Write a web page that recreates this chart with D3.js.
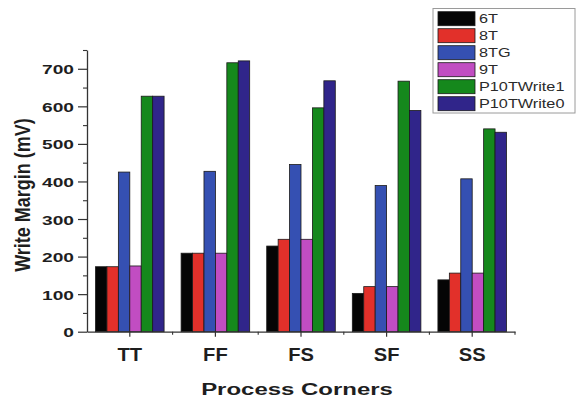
<!DOCTYPE html>
<html>
<head>
<meta charset="utf-8">
<script src="https://cdn.jsdelivr.net/npm/d3@7"></script>
<style>
  html, body { margin: 0; padding: 0; background: #fff; }
  svg { display: block; }
  text { font-family: "Liberation Sans", Arial, sans-serif; }
</style>
</head>
<body>
<svg id="chart" width="576" height="398"></svg>
<script>
// Process corners on the x axis
const corners = ["TT", "FF", "FS", "SF", "SS"];

// Write margin (mV) of each cell type per corner
const v6T         = [173, 209, 228, 102, 138];
const v8T         = [173, 209, 246, 120, 156];
const v8TG        = [425, 427, 445, 389, 407];
const v9T         = [175, 209, 246, 120, 156];
const vP10TWrite1 = [627, 716, 596, 667, 540];
const vP10TWrite0 = [627, 721, 668, 589, 531];

const seriesNames  = ["6T", "8T", "8TG", "9T", "P10TWrite1", "P10TWrite0"];
const seriesValues = [v6T, v8T, v8TG, v9T, vP10TWrite1, vP10TWrite0];
const seriesColors = ["#050505", "#e2302a", "#3550b2", "#c14dc2", "#15881c", "#30258a"];

const yMajorTicks = [0, 100, 200, 300, 400, 500, 600, 700];
const yMinorTicks = [50, 150, 250, 350, 450, 550, 650, 750];

const svg = d3.select("#chart");

const plotLeft = 87, plotRight = 515, plotTop = 50, plotBottom = 331.7;

const x0 = d3.scaleBand().domain(corners).range([plotLeft, plotRight]).paddingInner(0).paddingOuter(0);
const x1 = d3.scaleBand().domain(seriesNames).range([0, x0.bandwidth()])
  .paddingInner(0).paddingOuter(0.745);
const y = d3.scaleLinear().domain([0, 750]).range([plotBottom, plotTop]);

// Bars
const rows = [];
seriesNames.forEach((s, si) => {
  corners.forEach((c, ci) => rows.push({ s, c, v: seriesValues[si][ci], color: seriesColors[si] }));
});
svg.append("g").selectAll("rect").data(rows).join("rect")
  .attr("x", d => x0(d.c) + x1(d.s))
  .attr("y", d => y(d.v))
  .attr("width", x1.bandwidth())
  .attr("height", d => y(0) - y(d.v))
  .attr("fill", d => d.color)
  .attr("stroke", "#1a1a1a")
  .attr("stroke-width", 0.8);

// Y axis with major and minor ticks
const yAxis = svg.append("g").attr("transform", `translate(${plotLeft},0)`)
  .call(d3.axisLeft(y).tickValues(yMajorTicks).tickSize(9).tickSizeOuter(0).tickPadding(0));
yAxis.select(".domain").attr("stroke", "#333").attr("stroke-width", 1.3);
yAxis.selectAll(".tick line").attr("stroke", "#333").attr("stroke-width", 1.2);
yAxis.selectAll(".tick text")
  .attr("x", 0).attr("dy", 0).attr("y", 0)
  .attr("transform", "translate(-13,5) scale(1.42,1)")
  .attr("text-anchor", "end")
  .style("font-size", "13.5px").style("font-weight", "bold").attr("fill", "#1e1e1e");

const yMinor = svg.append("g").attr("transform", `translate(${plotLeft},0)`)
  .call(d3.axisLeft(y).tickValues(yMinorTicks).tickSize(4).tickSizeOuter(0).tickFormat(""));
yMinor.select(".domain").remove();
yMinor.selectAll(".tick line").attr("stroke", "#333").attr("stroke-width", 1.1);

// X axis
const xAxis = svg.append("g").attr("transform", `translate(0,${plotBottom})`)
  .call(d3.axisBottom(x0).tickSize(5).tickSizeOuter(0));
xAxis.select(".domain").attr("stroke", "#333").attr("stroke-width", 1.3);
xAxis.selectAll(".tick line").attr("stroke", "#333").attr("stroke-width", 1.2);
xAxis.selectAll(".tick text")
  .attr("y", 0).attr("dy", 0)
  .attr("transform", "translate(0,29.5) scale(1.15,1)")
  .style("font-size", "17.5px").style("font-weight", "bold").attr("fill", "#1e1e1e");

// Minor x ticks on the category boundaries
svg.append("g").selectAll("line").data(corners).join("line")
  .attr("x1", d => x0(d) + x0.bandwidth()).attr("x2", d => x0(d) + x0.bandwidth())
  .attr("y1", plotBottom).attr("y2", plotBottom + 3)
  .attr("stroke", "#333").attr("stroke-width", 1.1);

// Axis titles
svg.append("text")
  .attr("transform", "translate(297,395) scale(1.41,1)")
  .attr("text-anchor", "middle")
  .style("font-size", "17px").style("font-weight", "bold").attr("fill", "#1e1e1e")
  .text("Process Corners");

svg.append("text")
  .attr("transform", "translate(30,195) rotate(-90) scale(1,1.22)")
  .attr("text-anchor", "middle")
  .style("font-size", "18px").style("font-weight", "bold").attr("fill", "#1e1e1e")
  .text("Write Margin (mV)");

// Legend
const legend = svg.append("g");
legend.append("rect")
  .attr("x", 433).attr("y", 8.5).attr("width", 142).attr("height", 104.5)
  .attr("fill", "#fff").attr("stroke", "#9a9a9a").attr("stroke-width", 1);
const item = legend.selectAll("g.item").data(seriesNames).join("g")
  .attr("class", "item")
  .attr("transform", (d, i) => `translate(438,${11.7 + i * 17})`);
item.append("rect")
  .attr("width", 37).attr("height", 14)
  .attr("fill", (d, i) => seriesColors[i])
  .attr("stroke", "#1a1a1a").attr("stroke-width", 0.8);
item.append("text")
  .attr("transform", "translate(41,11.6) scale(1.3,1)")
  .style("font-size", "12.5px").attr("fill", "#2a2a2a")
  .text(d => d);
</script>
</body>
</html>
